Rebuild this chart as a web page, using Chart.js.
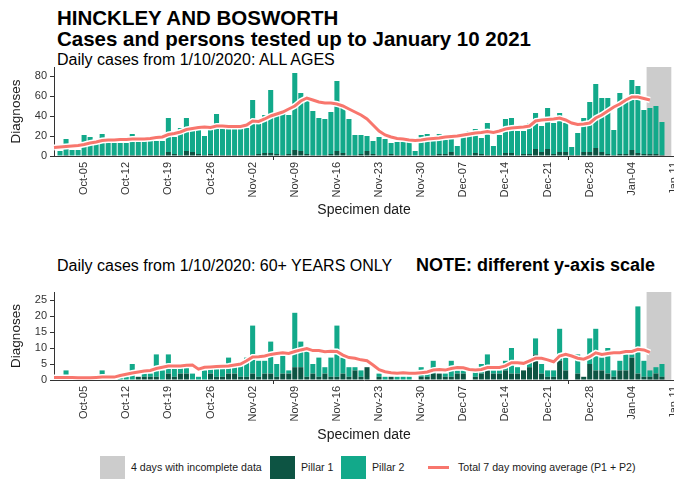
<!DOCTYPE html>
<html>
<head>
<meta charset="utf-8">
<script src="https://cdn.jsdelivr.net/npm/chart.js@4.4.1/dist/chart.umd.min.js"></script>
<style>
  body { margin: 0; width: 674px; height: 483px; background: #fff; position: relative; overflow: hidden;
         font-family: "Liberation Sans", Arial, sans-serif; color: #000; }
  .txt { position: absolute; white-space: nowrap; }
  .title { left: 57px; font-weight: bold; font-size: 20.5px; line-height: 21px; }
  .sub { left: 57px; font-size: 16px; line-height: 18px; }
  canvas { position: absolute; left: 0; }
  .sw { position: absolute; top: 456px; width: 25px; height: 23px; }
  .leg { position: absolute; top: 460px; font-size: 10.6px; line-height: 14px; white-space: nowrap; color: #1a1a1a; }
</style>
</head>
<body>
<div class="txt title" style="top:7px">HINCKLEY AND BOSWORTH</div>
<div class="txt title" style="top:28px">Cases and persons tested up to January 10 2021</div>
<div class="txt sub" style="top:51px">Daily cases from 1/10/2020: ALL AGES</div>
<div class="txt sub" style="top:257px">Daily cases from 1/10/2020: 60+ YEARS ONLY</div>
<div class="txt sub" style="top:255px;left:416px;font-weight:bold;font-size:18px;line-height:20px">NOTE: different y-axis scale</div>

<canvas id="allAges" width="674" height="165" style="top:60px"></canvas>
<canvas id="over60" width="674" height="165" style="top:285px"></canvas>

<div class="sw" style="left:100px;background:#cccccc"></div>
<div class="leg" style="left:131px">4 days with incomplete data</div>
<div class="sw" style="left:270px;background:#0d5443"></div>
<div class="leg" style="left:301px">Pillar 1</div>
<div class="sw" style="left:341px;background:#12a98a"></div>
<div class="leg" style="left:372px">Pillar 2</div>
<div style="position:absolute;left:428px;top:466px;width:21px;height:3px;background:#f8766d"></div>
<div class="leg" style="left:458px">Total 7 day moving average (P1 + P2)</div>

<script>
// bars: one value per day, from 1 Oct 2020
const allPillar1 = [0,1,0,0,1,1,1,1,0,1, 0,1,1,1,0,1,1,1,4,2, 1,5,4,2,1,2,1,1,1,1,
  1,1,1,2,3,3,2,1,2,6, 5,2,1,1,1,2,5,3,1,1, 2,5,2,1,1,2,1,1,1,0,
  1,1,1,2,2,4,1,1,1,3, 2,1,1,1,3,3,1,2,2,7, 4,7,2,4,4,1,1,4,4,8,
  4,2,1,2,2,6,3,2,2,2, 1];
const allPillar2 = [5,16,6,6,20,18,12,21,13,12, 13,12,21,13,15,14,14,14,34,17, 27,33,21,24,19,25,41,28,27,26,
  26,27,55,30,38,63,41,44,39,77, 58,53,44,37,36,42,70,46,36,20, 19,15,13,18,16,11,13,13,13,5,
  20,21,16,20,14,18,9,22,24,24, 16,32,9,20,34,35,24,23,31,36, 26,41,31,39,29,8,22,34,50,64,
  54,56,25,61,55,70,67,44,46,48, 33];
// moving average: one value per day, from 30 Sep 2020
const allAverage = [8.5, 9,9.5,10,10.5,11.5,13,14,15.5,16,16, 16.5,16.5,17,17,17,17.5,18.5,19,21.5,22.5,
  24,26.5,27.5,28.5,29,28.5,30,30,29.5,29.5, 29.5,31,35,34.5,37,40,42,44,47,50,
  55,58,56,54,53,53,52,50,47,44, 41,37,31,25,21,19,17.5,17,16,15.5,
  16,17,17.5,18,19,19.5,20,21,22,23, 23.5,24.5,23.5,25,27,28,28.5,29,30,35,
  36,36.5,37,38,36,33,31.5,32,33,38, 41,45,49,52,56,59,59,57.5,56];

const oldPillar1 = [0,0,0,0,0,0,0,0,0,0, 0,0,0,1,1,1,1,0,2,1, 2,2,0,0,0,2,1,1,2,2,
  1,1,2,1,2,2,1,2,2,4, 4,1,2,1,2,1,1,2,1,3, 1,4,0,1,0,1,0,0,0,0,
  1,1,2,2,1,1,2,2,0,1, 2,3,2,2,3,2,2,3,4,8, 2,1,1,6,3,0,2,1,5,3,
  3,2,1,3,3,7,2,1,1,2, 1];
const oldPillar2 = [1,3,1,0,1,1,0,3,1,0, 1,1,5,0,1,1,7,3,6,3, 2,2,2,1,3,2,4,4,5,3,
  4,6,15,5,4,10,4,6,1,17, 8,8,3,6,2,6,16,5,3,1, 2,0,0,1,1,0,1,1,1,0,
  3,1,4,0,1,5,1,1,0,2, 3,5,1,1,3,8,2,0,2,5, 3,2,2,10,4,0,6,0,8,13,
  4,8,2,3,5,1,21,5,2,2, 4];
const oldAverage = [0.8, 0.8,0.8,0.8,0.7,0.7,0.7,0.8,0.9,0.9,0.9, 1.4,1.8,2.2,2.5,2.8,3.0,3.6,4.0,4.4,4.4,
  4.4,4.6,4.7,3.4,4.0,4.1,4.2,4.3,4.4,4.7, 5.0,6.0,7.2,7.3,7.5,8.0,8.3,8.5,8.3,8.9,
  9.4,9.8,9.2,9.2,8.8,9.0,8.9,7.8,7.0,6.8, 6.3,6.0,4.7,3.2,2.6,2.3,2.1,2.3,2.1,2.1,
  2.3,2.5,3.1,3.3,3.1,3.6,3.9,3.8,3.3,3.1, 3.3,3.9,3.9,3.9,4.4,5.4,5.4,5.2,6.0,6.8,
  6.8,6.3,5.7,7.5,8.0,7.5,6.8,6.5,7.3,8.5, 8.0,8.3,8.5,8.5,8.9,8.9,9.6,9.4,8.6];

const tickLabels = ['Oct-05','Oct-12','Oct-19','Oct-26','Nov-02','Nov-09','Nov-16','Nov-23',
  'Nov-30','Dec-07','Dec-14','Dec-21','Dec-28','Jan-04','Jan-11'];
const incompleteDays = ['Jan-07','Jan-08','Jan-09','Jan-10'];

const DARK = '#0d5443';
const TEAL = '#12a98a';
const LINE = '#f8766d';

// axis runs from 30 Sep 2020 to 11 Jan 2021
const months = ['Jan','Feb','Mar','Apr','May','Jun','Jul','Aug','Sep','Oct','Nov','Dec'];
const dayLabels = [];
for (let d = new Date(2020, 8, 30); d <= new Date(2021, 0, 11); d.setDate(d.getDate() + 1)) {
  dayLabels.push(months[d.getMonth()] + '-' + String(d.getDate()).padStart(2, '0'));
}

function pad(arr) {
  return [null].concat(arr);
}

Chart.defaults.font.family = '"Liberation Sans", Arial, sans-serif';

function drawPanel(id, pillar1, pillar2, average, yMax, yStep, axisHeight) {
  const ctx = document.getElementById(id).getContext('2d');
  new Chart(ctx, {
    data: {
      labels: dayLabels,
      datasets: [
        { type: 'line', data: average, borderColor: LINE, borderWidth: 3, pointRadius: 0, stack: 'avg', order: 0 },
        { type: 'line', data: average, borderColor: '#ffffff', borderWidth: 6, pointRadius: 0, stack: 'halo', order: 1 },
        { type: 'bar', data: pad(pillar1), backgroundColor: DARK, stack: 'cases', order: 2,
          barPercentage: 0.84, categoryPercentage: 1 },
        { type: 'bar', data: pad(pillar2), backgroundColor: TEAL, stack: 'cases', order: 2,
          barPercentage: 0.84, categoryPercentage: 1 },
        { type: 'bar', data: dayLabels.map(l => incompleteDays.includes(l) ? yMax : null),
          backgroundColor: '#cccccc', stack: 'grey', grouped: false, order: 3,
          barPercentage: 1, categoryPercentage: 1 }
      ]
    },
    options: {
      responsive: false,
      animation: false,
      layout: { padding: { top: 7, left: 0, right: 0, bottom: 0 } },
      plugins: { legend: { display: false }, tooltip: { enabled: false } },
      scales: {
        x: {
          type: 'category',
          offset: false,
          stacked: true,
          ticks: {
            autoSkip: false, minRotation: 90, maxRotation: 90, padding: 2,
            font: { size: 11 }, color: '#333',
            callback: (v, i) => tickLabels.includes(dayLabels[i]) ? dayLabels[i] : null
          },
          grid: {
            drawOnChartArea: false, tickLength: 4, color: '#333',
            tickColor: c => tickLabels.includes(dayLabels[c.index]) ? '#333' : 'rgba(0,0,0,0)'
          },
          border: { color: '#333' },
          title: { display: true, text: 'Specimen date', font: { size: 14 }, color: '#1a1a1a',
                   padding: { top: 2, bottom: 6 } },
          afterFit: s => { s.height = axisHeight; s.paddingLeft = 0; s.paddingRight = 0; }
        },
        y: {
          stacked: true,
          min: 0,
          max: yMax,
          ticks: { stepSize: yStep, includeBounds: false, font: { size: 11 }, color: '#333', padding: 3 },
          grid: { drawOnChartArea: false, tickLength: 4, color: '#333' },
          border: { color: '#333' },
          title: { display: true, text: 'Diagnoses', font: { size: 13.5 }, color: '#1a1a1a',
                   padding: { top: 8, bottom: 0 } },
          afterFit: s => { s.width = 54; s.paddingTop = 0; s.paddingBottom = 0; }
        }
      }
    }
  });
}

drawPanel('allAges', allPillar1, allPillar2, allAverage, 89, 20, 69);
drawPanel('over60', oldPillar1, oldPillar2, oldAverage, 27.5, 5, 70);
</script>
</body>
</html>
